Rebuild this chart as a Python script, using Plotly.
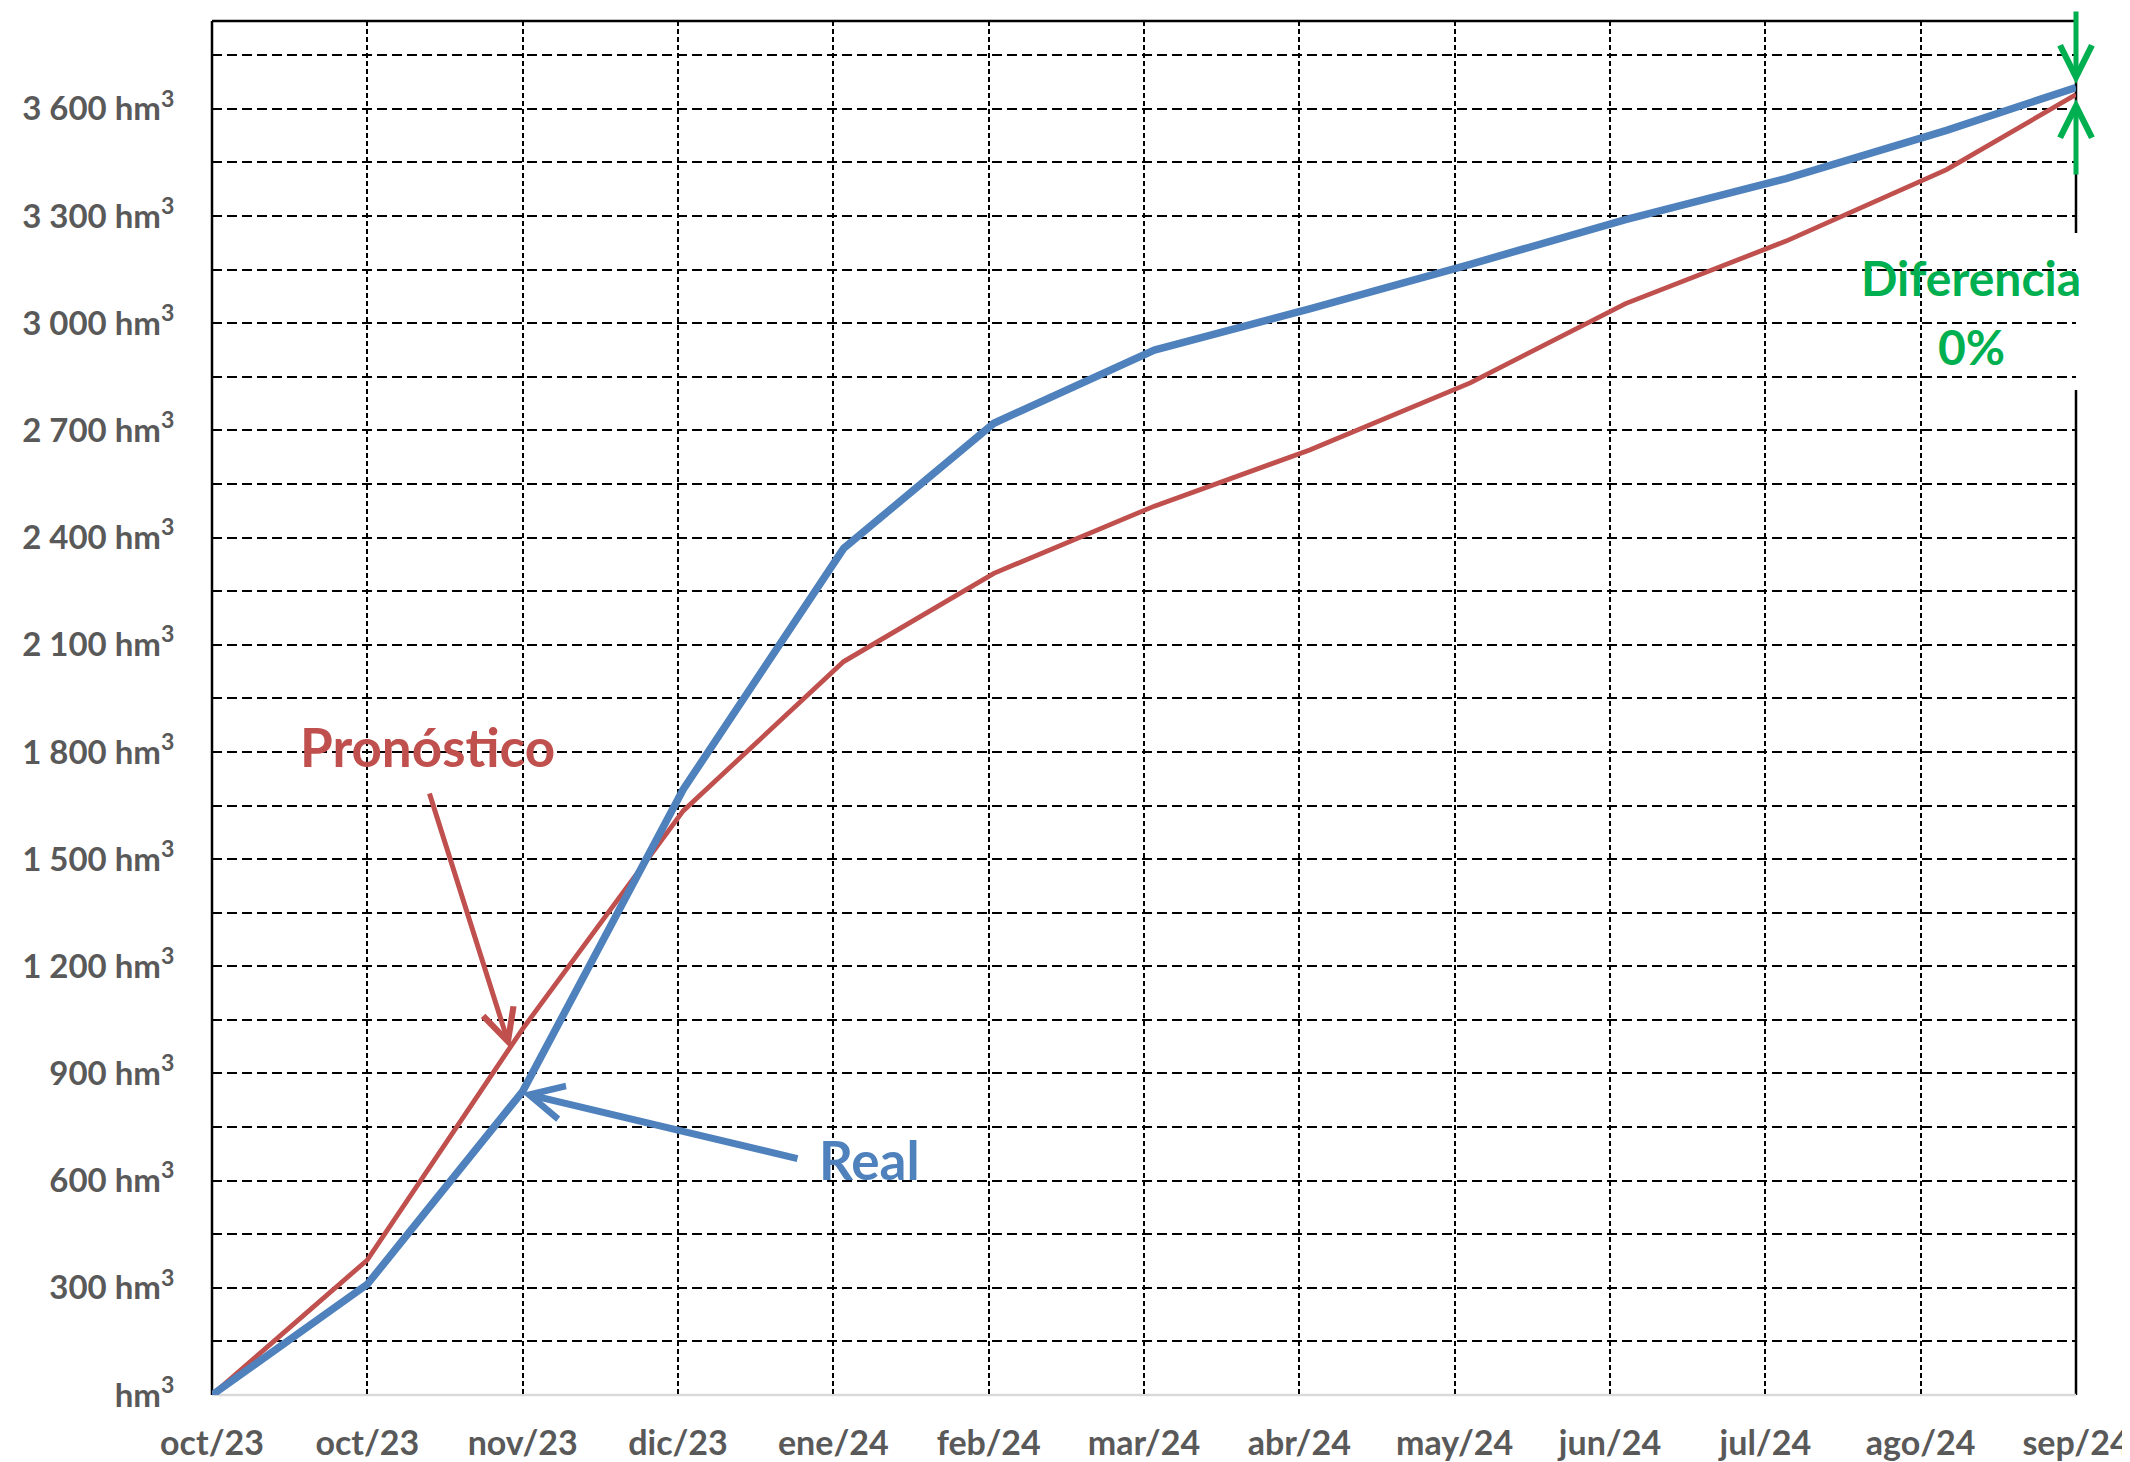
import plotly.graph_objects as go

# ---------------- data ----------------
fechas = ["2023-10-01", "2023-10-31", "2023-11-30", "2023-12-31", "2024-01-31",
          "2024-02-29", "2024-03-31", "2024-04-30", "2024-05-31", "2024-06-30",
          "2024-07-31", "2024-08-31", "2024-09-25"]
real = [0, 310, 850, 1695, 2370, 2720, 2925, 3040, 3165, 3290, 3405, 3540, 3660]
pronostico = [0, 378, 1025, 1635, 2053, 2300, 2488, 2645, 2833, 3055, 3230, 3430, 3640]

tick_fechas = ["2023-10-01", "2023-10-31", "2023-11-30", "2023-12-30", "2024-01-29",
               "2024-02-28", "2024-03-29", "2024-04-28", "2024-05-28", "2024-06-27",
               "2024-07-27", "2024-08-26", "2024-09-25"]
tick_meses = ["oct/23", "oct/23", "nov/23", "dic/23", "ene/24", "feb/24", "mar/24",
              "abr/24", "may/24", "jun/24", "jul/24", "ago/24", "sep/24"]
y_ticks = [0, 300, 600, 900, 1200, 1500, 1800, 2100, 2400, 2700, 3000, 3300, 3600]
y_labels = ["hm<sup>3</sup>", "300 hm<sup>3</sup>", "600 hm<sup>3</sup>", "900 hm<sup>3</sup>",
            "1 200 hm<sup>3</sup>", "1 500 hm<sup>3</sup>", "1 800 hm<sup>3</sup>",
            "2 100 hm<sup>3</sup>", "2 400 hm<sup>3</sup>", "2 700 hm<sup>3</sup>",
            "3 000 hm<sup>3</sup>", "3 300 hm<sup>3</sup>", "3 600 hm<sup>3</sup>"]

# ---------------- layout geometry (screen pixels) ----------------
OFF = 8                      # page body margin of the html page
W, H = 2130 - OFF, 1462 - OFF
L, R, T, B = 212, 2076, 21, 1395   # plot area in screen pixels
PW, PH = R - L, B - T

def pxx(p):
    return (p - L) / PW

def pxy(p):
    return (B - p) / PH

BLUE = "#4F81BD"
RED = "#C0504D"
GREEN = "#00B050"
GRAY = "#595959"
FONT = "Lato"

fig = go.Figure()
fig.add_trace(go.Scatter(x=fechas, y=pronostico, mode="lines",
                         line=dict(color=RED, width=4.8), name="Pronóstico"))
fig.add_trace(go.Scatter(x=fechas, y=real, mode="lines",
                         line=dict(color=BLUE, width=7.5), name="Real"))

shapes = []
# plot border
shapes.append(dict(type="line", xref="paper", yref="paper", x0=0, x1=1, y0=1, y1=1,
                   line=dict(color="black", width=2.5), layer="between"))
shapes.append(dict(type="line", xref="paper", yref="paper", x0=0, x1=0, y0=0, y1=1,
                   line=dict(color="black", width=2.5), layer="between"))
shapes.append(dict(type="line", xref="paper", yref="paper", x0=1, x1=1, y0=0, y1=1,
                   line=dict(color="black", width=2.5), layer="between"))
shapes.append(dict(type="line", xref="paper", yref="paper", x0=0, x1=1, y0=0, y1=0,
                   line=dict(color="#D9D9D9", width=2.5), layer="between"))
# white label boxes
for (x0, x1, y0, y1) in [(275, 578, 703, 788), (795, 937, 1113, 1203), (1817, 2110, 233, 390)]:
    shapes.append(dict(type="rect", xref="paper", yref="paper",
                       x0=pxx(x0), x1=pxx(x1), y0=pxy(y1), y1=pxy(y0),
                       fillcolor="white", line=dict(width=0), layer="between"))

annotations = [
    dict(text="Pronóstico", x=pxx(427), y=pxy(746), xref="paper", yref="paper",
         showarrow=False, font=dict(family=FONT, size=53, color=RED, weight="bold"),
         xanchor="center", yanchor="middle"),
    dict(text="Real", x=pxx(869), y=pxy(1159), xref="paper", yref="paper",
         showarrow=False, font=dict(family=FONT, size=53, color=BLUE, weight="bold"),
         xanchor="center", yanchor="middle"),
    dict(text="Diferencia", x=pxx(1971), y=pxy(278), xref="paper", yref="paper",
         showarrow=False, font=dict(family=FONT, size=48, color=GREEN, weight="bold"),
         xanchor="center", yanchor="middle"),
    dict(text="0%", x=pxx(1971), y=pxy(346), xref="paper", yref="paper",
         showarrow=False, font=dict(family=FONT, size=48, color=GREEN, weight="bold"),
         xanchor="center", yanchor="middle"),
    # arrows
    dict(text="", x=pxx(510), y=pxy(1048), xref="paper", yref="paper",
         showarrow=True, ax=429 - 510, ay=792 - 1048, arrowhead=5, arrowsize=1.25,
         arrowwidth=5, arrowcolor=RED, standoff=0),
    dict(text="", x=pxx(522), y=pxy(1093), xref="paper", yref="paper",
         showarrow=True, ax=799 - 522, ay=1159 - 1093, arrowhead=5, arrowsize=0.95,
         arrowwidth=7, arrowcolor=BLUE, standoff=0),
    dict(text="", x=1, y=pxy(84), xref="paper", yref="paper",
         showarrow=True, ax=0, ay=10 - 84, arrowhead=5, arrowsize=1.25,
         arrowwidth=5, arrowcolor=GREEN, standoff=0),
    dict(text="", x=1, y=pxy(99), xref="paper", yref="paper",
         showarrow=True, ax=0, ay=176 - 99, arrowhead=5, arrowsize=1.25,
         arrowwidth=5, arrowcolor=GREEN, standoff=0),
]

fig.update_layout(
    width=W, height=H,
    margin=dict(l=L - OFF, r=(W + OFF) - R, t=T - OFF, b=(H + OFF) - B,
                pad=0, autoexpand=False),
    paper_bgcolor="white", plot_bgcolor="white",
    showlegend=False,
    shapes=shapes, annotations=annotations,
    font=dict(family=FONT, color=GRAY),
    xaxis=dict(
        type="date", range=[fechas[0], tick_fechas[-1]],
        tickvals=tick_fechas, ticktext=tick_meses, automargin=False,
        showgrid=True, gridcolor="black", gridwidth=2, griddash="5px,3px",
        ticks="outside", ticklen=18, tickcolor="rgba(0,0,0,0)",
        tickfont=dict(family=FONT, size=34, color=GRAY, weight="bold"),
        showline=False, zeroline=False,
    ),
    yaxis=dict(
        range=[0, 3846], automargin=False,
        tickvals=y_ticks, ticktext=y_labels,
        showgrid=True, gridcolor="black", gridwidth=2, griddash="10px,5px",
        minor=dict(tick0=0, dtick=150, showgrid=True, gridcolor="black",
                   gridwidth=2, griddash="10px,5px", ticks=""),
        ticks="outside", ticklen=30, tickcolor="rgba(0,0,0,0)",
        tickfont=dict(family=FONT, size=33, color=GRAY, weight="bold"),
        showline=False, zeroline=False,
    ),
)

fig.write_html("out.html")
